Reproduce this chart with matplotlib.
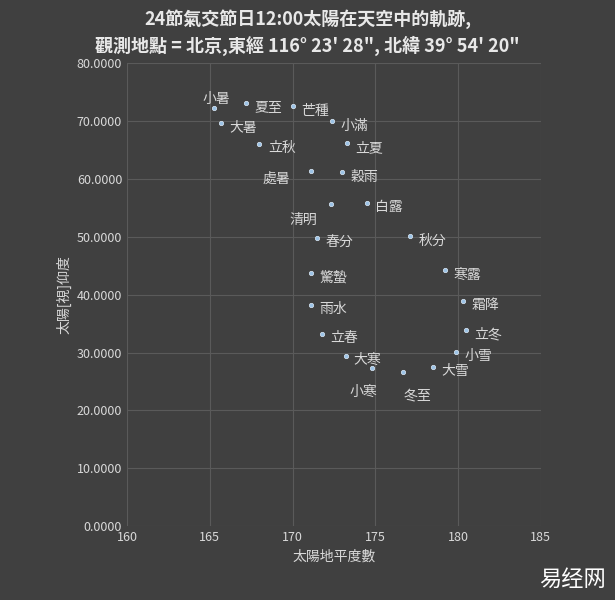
import matplotlib
matplotlib.use("Agg")
import matplotlib.pyplot as plt
from matplotlib import font_manager as fm

cjk = [f.name for f in fm.fontManager.ttflist if "CJK" in f.name]
pref = [n for n in ["Noto Sans CJK TC", "Noto Sans CJK SC", "Noto Sans CJK JP"] if n in cjk] or cjk[:1]
plt.rcParams["font.family"] = pref + ["DejaVu Sans"]

names = ["小暑","夏至","芒種","大暑","小滿","立秋","立夏","處暑","穀雨","白露","清明","秋分",
         "春分","寒露","驚蟄","霜降","雨水","立冬","立春","小雪","大寒","大雪","小寒","冬至"]
azimuth = [165.25,167.2,170.0,165.7,172.4,168.0,173.3,171.1,173.0,174.5,172.3,177.1,
           171.5,179.2,171.1,180.3,171.1,180.5,171.8,179.9,173.2,178.5,174.8,176.7]
altitude = [72.2,73.1,72.5,69.6,69.9,66.0,66.1,61.3,61.1,55.8,55.6,50.1,
            49.7,44.2,43.7,38.9,38.2,33.9,33.2,30.1,29.4,27.5,27.3,26.6]
# label offsets in points
offsets = {"小暑":(-8,4),"處暑":(-35,-8),"清明":(-30,-14),"小寒":(-16,-20),"冬至":(0,-20)}

bg = "#404040"
fig = plt.figure(figsize=(6.15, 6.0), dpi=100, facecolor=bg)
ax = fig.add_axes([0.2065, 0.123, 0.673, 0.772], facecolor=bg)
ax.scatter(azimuth, altitude, s=10, color="#9cc3e6", edgecolors="#dceaf7", linewidths=0.5, zorder=3)
for n, x, y in zip(names, azimuth, altitude):
    dx, dy = offsets.get(n, (6, -6))
    ax.annotate(n, (x, y), xytext=(dx, dy), textcoords="offset points", color="#d9d9d9", fontsize=10)
ax.set_xlim(160, 185)
ax.set_ylim(0, 80)
ax.set_xticks(range(160, 186, 5))
ax.set_yticks(range(0, 81, 10))
ax.set_yticklabels([f"{v:.4f}" for v in range(0, 81, 10)])
ax.grid(True, color="#5a5a5a", linewidth=0.8)
ax.set_axisbelow(True)
for s in ax.spines.values():
    s.set_visible(False)
ax.tick_params(colors="#d9d9d9", length=0, labelsize=9)
ax.set_xlabel("太陽地平度數", color="#d9d9d9", fontsize=10)
ax.set_ylabel("太陽[視]仰度", color="#d9d9d9", fontsize=10)
fig.text(0.5, 0.985, "24節氣交節日12:00太陽在天空中的軌跡,", ha="center", va="top",
         color="#e8e8e8", fontsize=13, fontweight="bold")
fig.text(0.5, 0.94, "觀測地點 = 北京,東經 116° 23' 28\", 北緯 39° 54' 20\"", ha="center", va="top",
         color="#e8e8e8", fontsize=13, fontweight="bold")
fig.text(0.985, 0.015, "易经网", ha="right", va="bottom", color="white", fontsize=16)
fig.savefig("out.png", facecolor=bg)
